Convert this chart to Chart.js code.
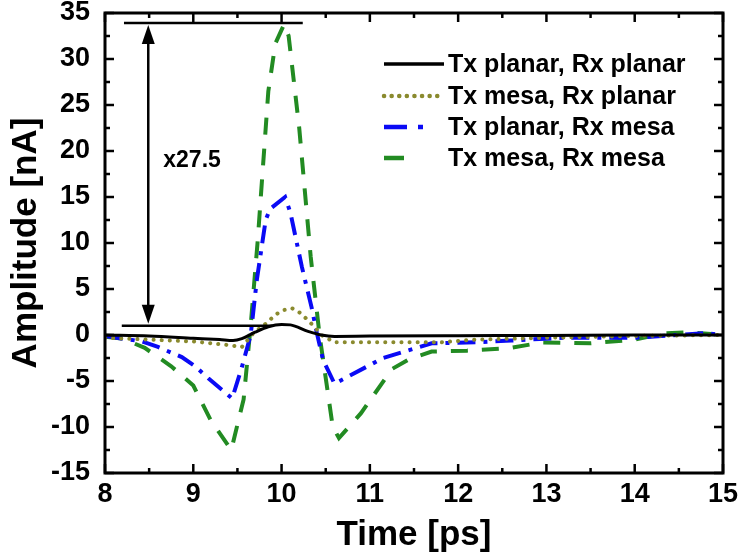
<!DOCTYPE html>
<html><head><meta charset="utf-8">
<script src="https://cdn.jsdelivr.net/npm/chart.js@4/dist/chart.umd.min.js"></script>
<style>html,body{margin:0;padding:0;background:#fff}#wrap{width:740px;height:557px;position:relative}</style>
</head><body><div id="wrap"><canvas id="c" width="740" height="557"></canvas></div>
<script>
// ---- data ----
const seriesNames = ['Tx planar, Rx planar', 'Tx mesa, Rx planar', 'Tx planar, Rx mesa', 'Tx mesa, Rx mesa'];

const timePlanarPlanar = [8.0, 8.5, 9.0, 9.3, 9.45, 9.55, 9.7, 9.85, 10.0, 10.1, 10.3, 10.45, 10.6, 11.0, 12.0, 13.0, 14.0, 15.0];
const ampPlanarPlanar  = [0.0, -0.1, -0.35, -0.5, -0.6, -0.4, 0.3, 0.9, 1.15, 1.1, 0.4, 0.0, -0.15, -0.12, -0.08, -0.05, 0.0, 0.0];

const timeMesaPlanar = [8.0, 8.5, 9.0, 9.4, 9.55, 9.68, 9.83, 9.93, 10.02, 10.12, 10.21, 10.3, 10.38, 10.45, 10.6, 11.0, 11.8, 12.2, 13.0, 14.0, 15.0];
const ampMesaPlanar  = [-0.3, -0.5, -0.7, -1.1, -1.3, 0.2, 1.3, 2.2, 2.7, 2.9, 2.4, 1.6, 0.8, 0.0, -0.8, -0.8, -0.8, -0.5, -0.3, -0.1, 0.0];

const timePlanarMesa = [8.0, 8.2, 8.42, 8.6, 8.87, 9.02, 9.17, 9.44, 9.55, 9.65, 9.72, 9.82, 9.87, 10.04, 10.1, 10.23, 10.34, 10.4, 10.47, 10.6, 11.15, 11.7, 12.2, 12.6, 13.2, 14.0, 14.5, 14.8, 15.0];
const ampPlanarMesa  = [-0.1, -0.4, -0.7, -1.3, -2.4, -3.4, -4.7, -6.9, -3.5, 0.0, 6.0, 12.5, 13.7, 15.0, 13.3, 7.4, 3.0, 0.2, -2.7, -5.3, -2.5, -0.9, -0.8, -0.6, -0.3, -0.3, 0.0, 0.2, 0.0];

const timeMesaMesa = [8.0, 8.2, 8.45, 8.75, 9.0, 9.2, 9.43, 9.57, 9.65, 9.73, 9.85, 9.93, 10.03, 10.08, 10.2, 10.33, 10.43, 10.58, 10.65, 10.9, 11.25, 11.45, 11.7, 12.1, 12.6, 12.95, 13.5, 14.0, 14.35, 14.6, 15.0];
const ampMesaMesa  = [-0.2, -0.4, -1.4, -3.4, -5.5, -9.3, -12.5, -7.0, 1.0, 10.3, 26.5, 31.7, 33.8, 32.5, 22.5, 8.5, 0.0, -10.0, -11.2, -8.5, -3.7, -2.6, -1.8, -1.7, -1.4, -0.8, -0.9, -0.5, 0.2, 0.3, 0.0];

const xTickValues = [8, 9, 10, 11, 12, 13, 14, 15];
const yTickValues = [-15, -10, -5, 0, 5, 10, 15, 20, 25, 30, 35];

// annotation (data coordinates)
const annotLevels = [33.9, 1.0];          // upper / lower reference levels
const annotLineStart = [8.215, 8.19];     // x where the level lines start
const annotLineEnd = [10.24, 9.9];        // x where the level lines end
const annotArrowX = 8.49;
const annotText = 'x27.5';
const annotTextPos = [8.66, 19.0];

// ---- chart ----
const FONT = '"Liberation Sans", Arial, sans-serif';
const colors = ['#000000', '#8a8a2e', '#0a0af5', '#228b22'];
const dashes = [[], [0.1, 8], [18, 8, 4, 8], [17, 14]];
const caps = ['butt', 'round', 'butt', 'butt'];
const widths = [3, 4, 4, 4];
const times = [timePlanarPlanar, timeMesaPlanar, timePlanarMesa, timeMesaMesa];
const amps = [ampPlanarPlanar, ampMesaPlanar, ampPlanarMesa, ampMesaMesa];

const datasets = seriesNames.map((name, i) => ({
  label: name,
  data: times[i].map((t, k) => ({x: t, y: amps[i][k]})),
  borderColor: colors[i],
  backgroundColor: colors[i],
  borderWidth: widths[i],
  borderDash: dashes[i],
  borderCapStyle: caps[i],
  pointRadius: 0,
  fill: false,
  tension: 0,
  cubicInterpolationMode: i === 0 ? 'monotone' : 'default'
}));

const framePlugin = {
  id: 'frame',
  afterDatasetsDraw(chart) {
    const {ctx, chartArea: a, scales: {x, y}} = chart;
    ctx.save();
    // annotation
    ctx.strokeStyle = '#000'; ctx.fillStyle = '#000'; ctx.lineWidth = 2.5; ctx.setLineDash([]);
    annotLevels.forEach((lv, i) => {
      const py = y.getPixelForValue(lv);
      ctx.beginPath();
      ctx.moveTo(x.getPixelForValue(annotLineStart[i]), py);
      ctx.lineTo(x.getPixelForValue(annotLineEnd[i]), py);
      ctx.stroke();
    });
    const ax = x.getPixelForValue(annotArrowX);
    const yTop = y.getPixelForValue(annotLevels[0]) + 2;
    const yBot = y.getPixelForValue(annotLevels[1]) - 2;
    ctx.lineWidth = 2.5;
    ctx.beginPath(); ctx.moveTo(ax, yTop + 10); ctx.lineTo(ax, yBot - 10); ctx.stroke();
    const head = (tipY, dir) => {
      ctx.beginPath();
      ctx.moveTo(ax, tipY);
      ctx.lineTo(ax - 6.5, tipY + dir * 19);
      ctx.lineTo(ax + 6.5, tipY + dir * 19);
      ctx.closePath(); ctx.fill();
    };
    head(yTop, 1); head(yBot, -1);
    ctx.font = 'bold 23px ' + FONT;
    ctx.textBaseline = 'middle'; ctx.textAlign = 'left';
    ctx.fillText(annotText, x.getPixelForValue(annotTextPos[0]), y.getPixelForValue(annotTextPos[1]));

    // frame
    ctx.lineWidth = 3;
    ctx.strokeRect(a.left, a.top, a.right - a.left, a.bottom - a.top);
    // ticks (inward, all four sides)
    ctx.lineWidth = 2.5;
    const drawXT = (v, len) => {
      const px = x.getPixelForValue(v);
      ctx.beginPath(); ctx.moveTo(px, a.bottom); ctx.lineTo(px, a.bottom - len); ctx.stroke();
      ctx.beginPath(); ctx.moveTo(px, a.top); ctx.lineTo(px, a.top + len); ctx.stroke();
    };
    const drawYT = (v, len) => {
      const py = y.getPixelForValue(v);
      ctx.beginPath(); ctx.moveTo(a.left, py); ctx.lineTo(a.left + len, py); ctx.stroke();
      ctx.beginPath(); ctx.moveTo(a.right, py); ctx.lineTo(a.right - len, py); ctx.stroke();
    };
    xTickValues.forEach((v, i) => {
      drawXT(v, 9);
      if (i < xTickValues.length - 1) drawXT((v + xTickValues[i + 1]) / 2, 5);
    });
    yTickValues.forEach((v, i) => {
      drawYT(v, 9);
      if (i < yTickValues.length - 1) drawYT((v + yTickValues[i + 1]) / 2, 5);
    });

    // legend
    ctx.font = 'bold 25px ' + FONT;
    ctx.textAlign = 'left'; ctx.textBaseline = 'middle';
    const lx0 = 384, lx1 = 444, tx = 448;
    const rows = [64, 96, 127, 158];
    const legDash = [[], [0.1, 7.5], [23, 11, 5, 100], [20, 100]];
    seriesNames.forEach((name, i) => {
      ctx.strokeStyle = colors[i];
      ctx.lineWidth = i === 0 ? 3.5 : 4.5;
      ctx.lineCap = caps[i];
      ctx.setLineDash(legDash[i]);
      ctx.beginPath(); ctx.moveTo(lx0, rows[i]); ctx.lineTo(lx1, rows[i]); ctx.stroke();
      ctx.setLineDash([]);
      ctx.fillStyle = '#000';
      ctx.fillText(name, tx, rows[i] + 1);
    });
    ctx.restore();
  }
};

new Chart(document.getElementById('c'), {
  type: 'line',
  data: {datasets},
  options: {
    responsive: false,
    devicePixelRatio: 1,
    animation: false,
    layout: {padding: {top: 13, right: 17, left: 0, bottom: 0}},
    plugins: {legend: {display: false}, tooltip: {enabled: false}},
    scales: {
      x: {
        type: 'linear', min: 8, max: 15,
        afterBuildTicks: s => { s.ticks = xTickValues.map(v => ({value: v})); },
        afterFit: s => { s.height = 84; s.paddingLeft = 0; s.paddingRight = 0; },
        grid: {display: false, drawTicks: false},
        border: {display: false},
        ticks: {color: '#000', font: {family: FONT, size: 27, weight: 'bold'}, padding: 5, maxRotation: 0, autoSkip: false},
        title: {display: true, text: 'Time [ps]', color: '#000', font: {family: FONT, size: 35, weight: 'bold'}, padding: {top: 0, bottom: 1}}
      },
      y: {
        type: 'linear', min: -15, max: 35,
        afterBuildTicks: s => { s.ticks = yTickValues.map(v => ({value: v})); },
        afterFit: s => { s.width = 105; s.paddingTop = 0; s.paddingBottom = 0; },
        grid: {display: false, drawTicks: false},
        border: {display: false},
        ticks: {color: '#000', font: {family: FONT, size: 27, weight: 'bold'}, padding: 15, autoSkip: false},
        title: {display: true, text: 'Amplitude [nA]', color: '#000', font: {family: FONT, size: 35, weight: 'bold'}, padding: {top: 5, bottom: 0}}
      }
    }
  },
  plugins: [framePlugin]
});
</script>
</body></html>
